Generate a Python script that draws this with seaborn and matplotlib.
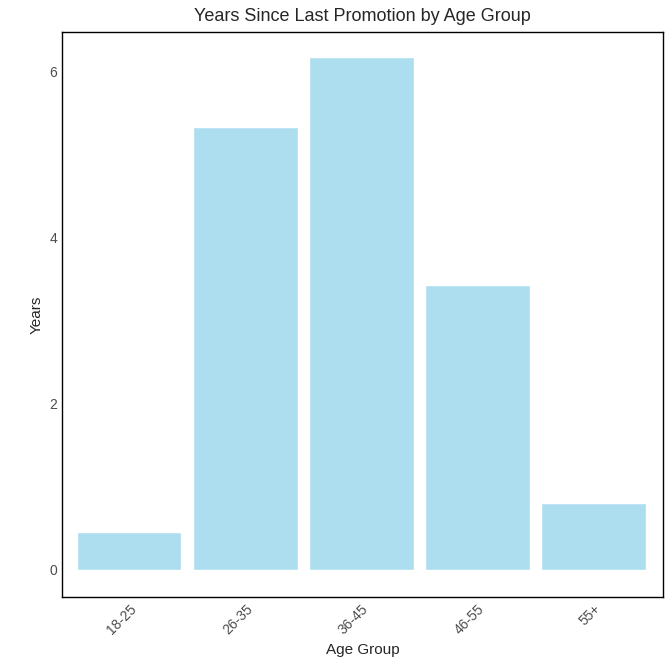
import matplotlib
matplotlib.use("Agg")
import matplotlib.pyplot as plt
import seaborn as sns
import pandas as pd

age_groups = ["18-25", "26-35", "36-45", "46-55", "55+"]
years = [0.45, 5.33, 6.18, 3.43, 0.80]

df = pd.DataFrame({"Age Group": age_groups, "Years": years})

sns.set_style("white")
plt.rcParams["font.family"] = ["Liberation Sans", "DejaVu Sans"]

fig = plt.figure(figsize=(6.71, 6.6), dpi=100)
ax = fig.add_axes([0.0924, 0.0955, 0.8956, 0.856])
sns.barplot(data=df, x="Age Group", y="Years", color="#ADDEEF", saturation=1,
            width=0.9, ax=ax)

ax.set_xlim(-0.58, 4.6)
ax.set_ylim(-0.33, 6.48)
ax.set_yticks([0, 2, 4, 6])
ax.tick_params(length=0, labelsize=10, colors="#4D4D4D")
for lbl in ax.get_xticklabels():
    lbl.set_rotation(45)
    lbl.set_ha("right")
    lbl.set_rotation_mode("anchor")
for s in ax.spines.values():
    s.set_color("black")
    s.set_linewidth(1)
ax.set_title("Years Since Last Promotion by Age Group", fontsize=13, pad=8)
ax.set_xlabel("Age Group", fontsize=11)
ax.set_ylabel("Years", fontsize=11)

fig.savefig("out.png", dpi=100)
